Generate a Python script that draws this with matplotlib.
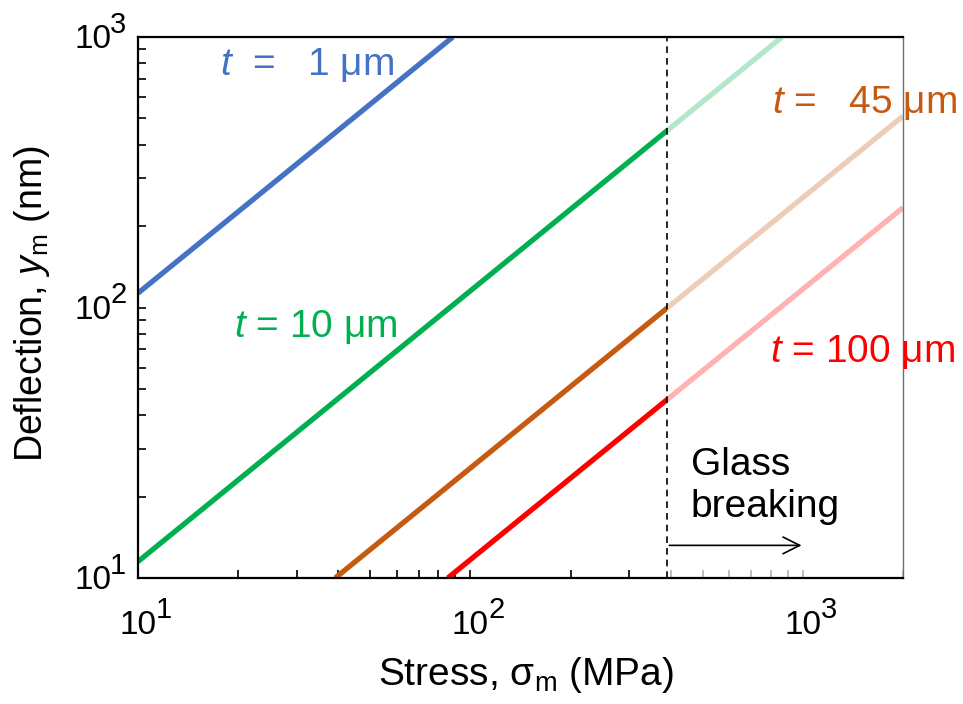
import matplotlib.pyplot as plt
from matplotlib.patches import Rectangle

plt.rcParams['font.family'] = ['Liberation Sans', 'DejaVu Sans']
plt.rcParams['mathtext.fontset'] = 'custom'
plt.rcParams['mathtext.rm'] = 'Liberation Sans'
plt.rcParams['mathtext.it'] = 'Liberation Sans:italic'

# deflection vs stress for each glass thickness
stress_t1 = [10, 88.5]
defl_t1 = [113, 1000]
stress_t10 = [10, 865]
defl_t10 = [11.5, 1000]
stress_t45 = [39.2, 2000]
defl_t45 = [10, 510]
stress_t100 = [85.5, 2000]
defl_t100 = [10, 234]

breaking_stress = 389  # MPa, dashed line
x_range = [10, 2000]
y_range = [10, 1000]
x_decades = [1, 2, 3]
y_decades = [1, 2, 3]

series = [
    (stress_t1, defl_t1, '#4472C4', r'$t$  =   1 μm', (17.6, 787)),
    (stress_t10, defl_t10, '#00B050', r'$t$ = 10 μm', (19.5, 84.4)),
    (stress_t45, defl_t45, '#C55A11', r'$t$ =   45 μm', (805, 570)),
    (stress_t100, defl_t100, '#FF0000', r'$t$ = 100 μm', (796, 68.2)),
]

fig = plt.figure(figsize=(9.63, 7.04), dpi=100)
ax = fig.add_axes([0.1433, 0.179, 0.7944, 0.7684])

for xs, ys, col, lab, pos in series:
    ax.plot(xs, ys, color=col, lw=3.8, solid_capstyle='butt', zorder=2)
    ax.text(pos[0], pos[1], lab, color=col, fontsize=28, ha='left', va='center')

ax.set_xscale('log')
ax.set_yscale('log')
ax.set_xlim(x_range)
ax.set_ylim(y_range)

# fade everything past the breaking stress
ax.add_patch(Rectangle((breaking_stress, y_range[0]), x_range[1] - breaking_stress,
                       y_range[1] - y_range[0], facecolor='white', edgecolor='none',
                       alpha=0.7, zorder=2.2))
ax.axvline(breaking_stress, color='black', lw=1.2, ls=(0, (4, 3)), zorder=3)

ax.annotate('', xy=(1010, 13.2), xytext=(breaking_stress, 13.2),
            arrowprops=dict(arrowstyle='->', color='black', lw=1.2,
                            mutation_scale=30), zorder=4)
ax.text(460, 30.5, 'Glass\nbreaking', fontsize=28, ha='left', va='top',
        linespacing=1.2, zorder=4)

ax.tick_params(which='both', direction='in', top=False, right=False,
               width=1.2, labelbottom=False, labelleft=False)
ax.tick_params(which='major', length=6)
ax.tick_params(which='minor', length=6)

# tick labels "10" with a big superscript, like the original
for e in x_decades:
    ax.annotate('10', xy=(10 ** e, 0), xycoords=('data', 'axes fraction'),
                xytext=(0, -40), textcoords='offset points',
                ha='center', va='baseline', fontsize=24)
    ax.annotate(str(e), xy=(10 ** e, 0), xycoords=('data', 'axes fraction'),
                xytext=(13, -29), textcoords='offset points',
                ha='left', va='baseline', fontsize=21)
for e in y_decades:
    ax.annotate('10', xy=(0, 10 ** e), xycoords=('axes fraction', 'data'),
                xytext=(-19, -8), textcoords='offset points',
                ha='right', va='baseline', fontsize=24)
    ax.annotate(str(e), xy=(0, 10 ** e), xycoords=('axes fraction', 'data'),
                xytext=(-20, 3), textcoords='offset points',
                ha='left', va='baseline', fontsize=21)

for s in ['left', 'bottom', 'top']:
    ax.spines[s].set_linewidth(1.6)
ax.spines['right'].set_color('#707070')
ax.spines['right'].set_linewidth(1.0)

ax.set_xlabel(r'Stress, σ$_\mathrm{m}$ (MPa)', fontsize=28, va='baseline')
ax.xaxis.set_label_coords(0.507, -0.198)
ax.set_ylabel(r'Deflection, $y_\mathrm{m}$ (nm)', fontsize=27)
ax.yaxis.set_label_coords(-0.113, 0.507)

fig.savefig('out.png', dpi=100)
